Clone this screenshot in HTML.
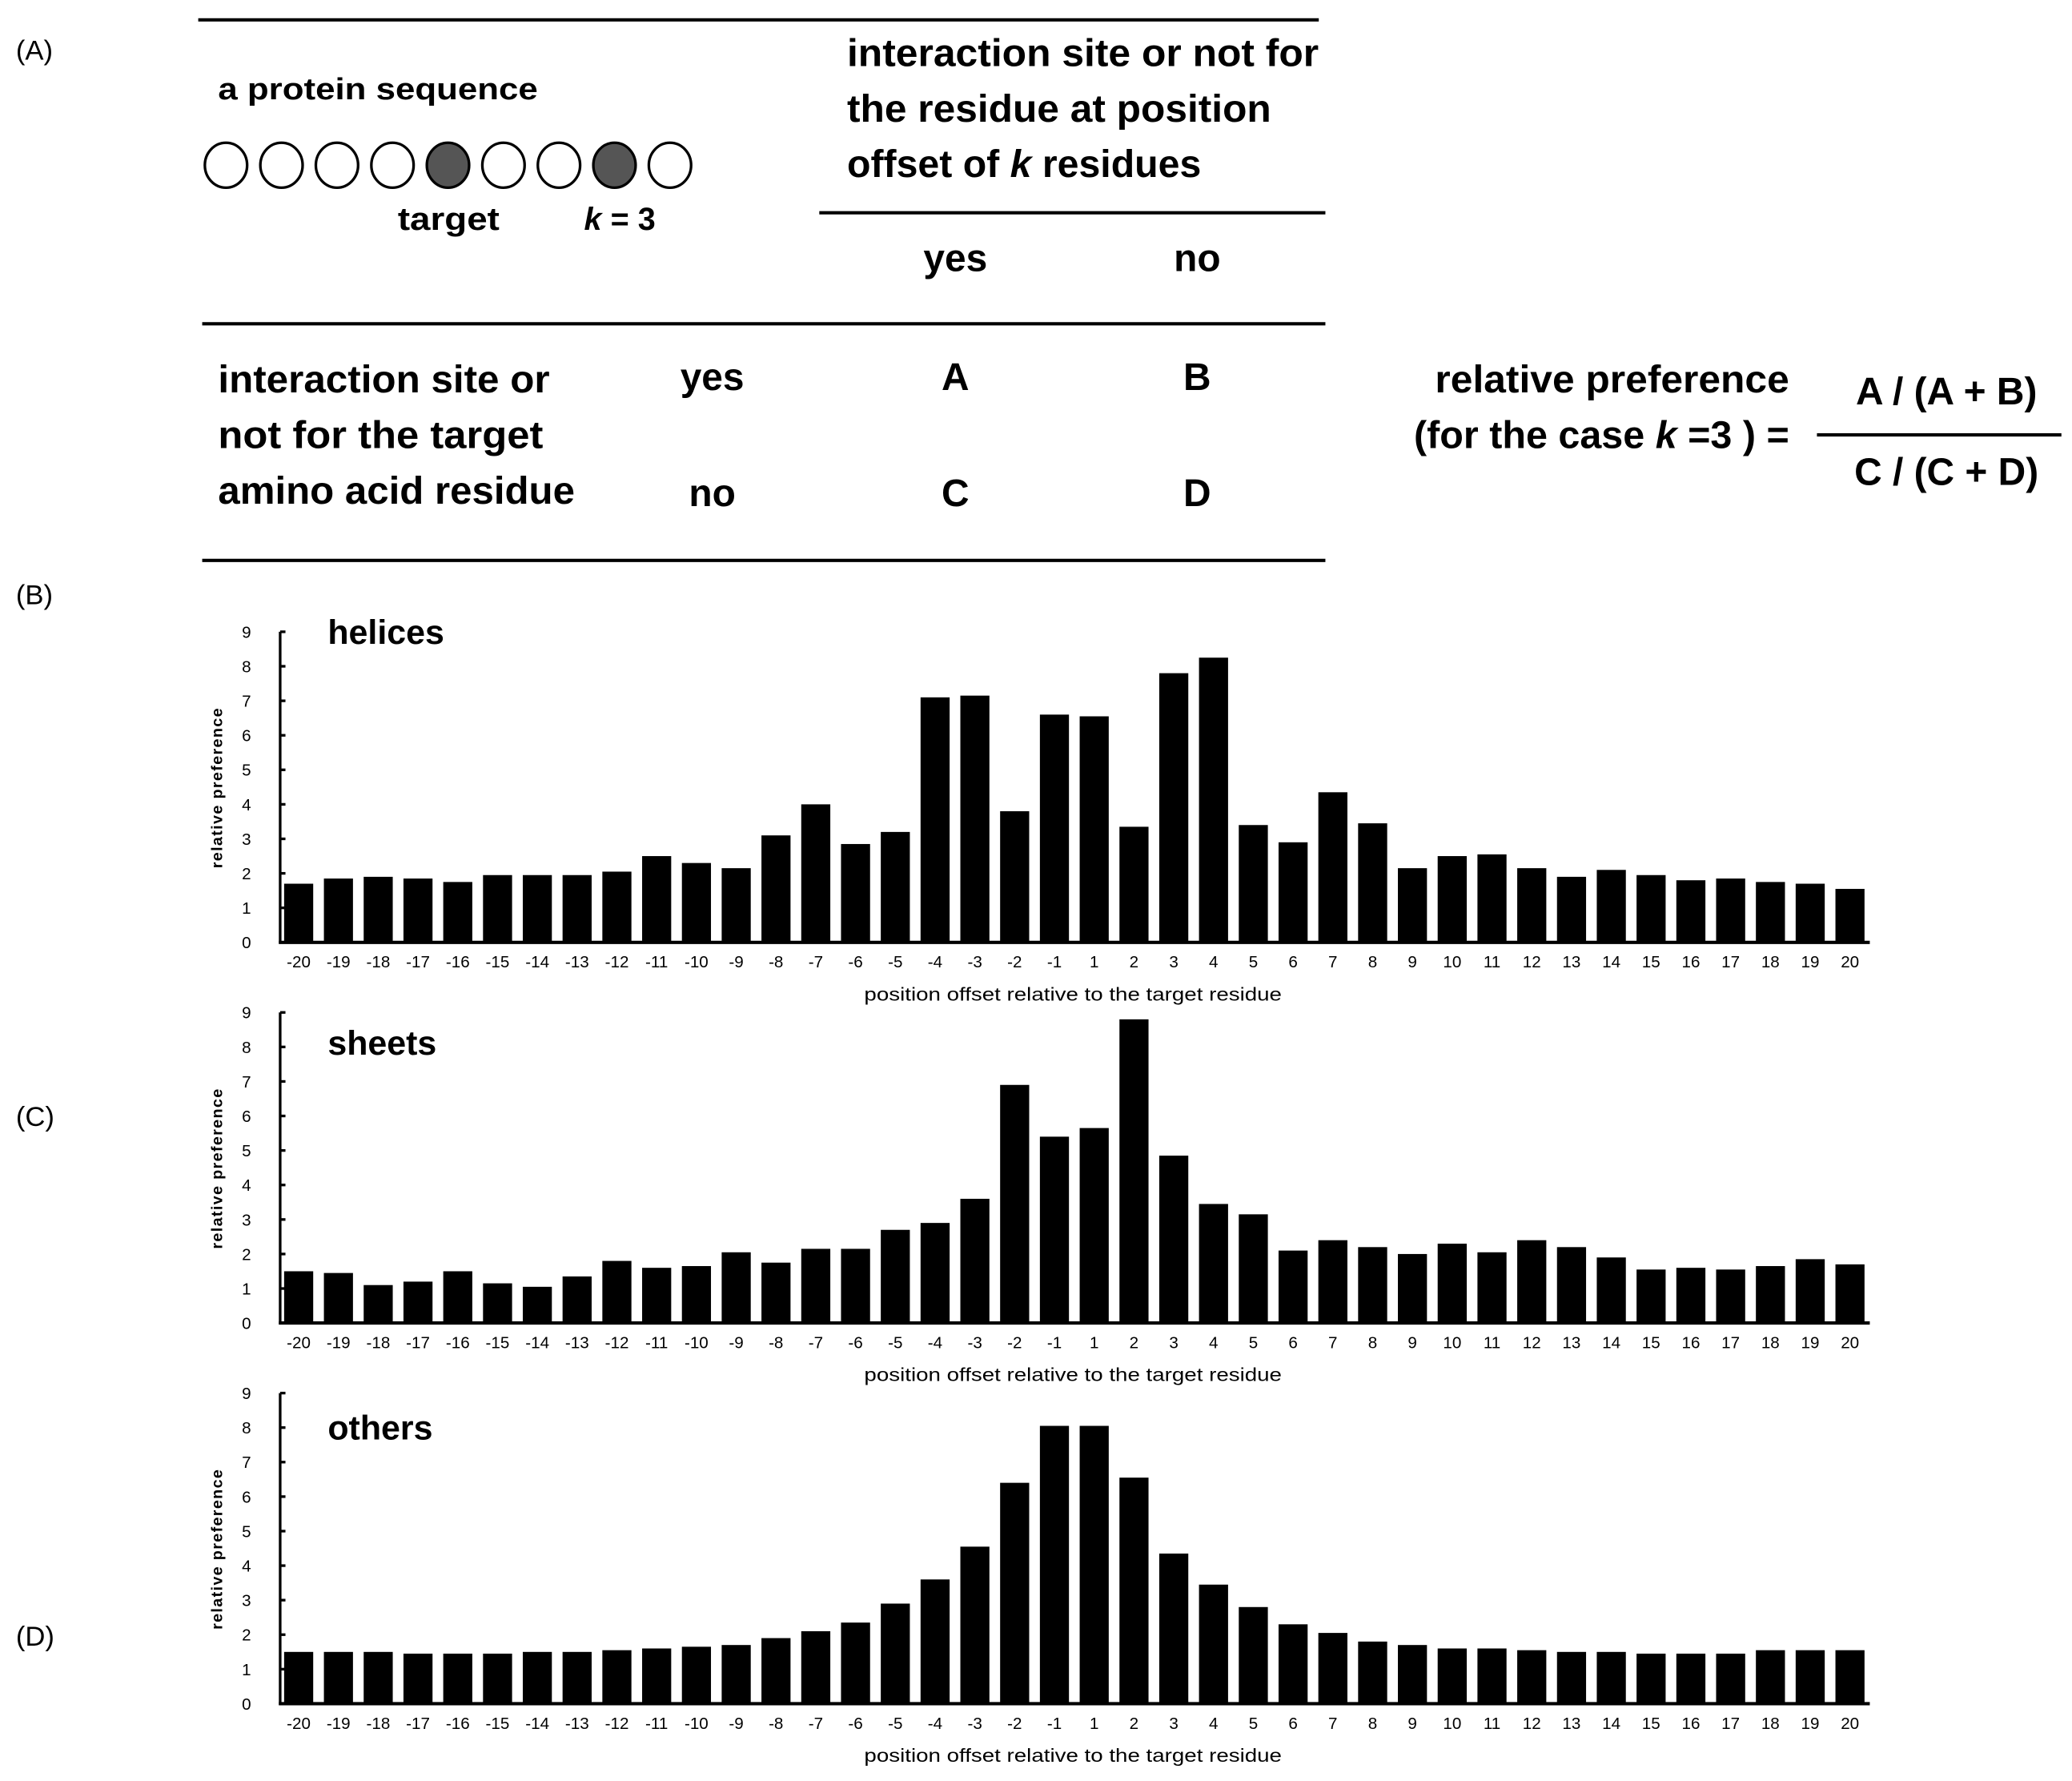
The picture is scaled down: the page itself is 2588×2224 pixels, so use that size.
<!DOCTYPE html>
<html><head><meta charset="utf-8"><style>
html,body{margin:0;padding:0;background:#fff;}
svg{display:block;font-family:"Liberation Sans",sans-serif;}
</style></head><body>
<svg id="fig" width="2588" height="2224" viewBox="0 0 1568 1347.5" xmlns="http://www.w3.org/2000/svg">
<g font-weight="bold" fill="#000">
<text x="12" y="45" font-size="21" font-weight="normal">(A)</text>
<line x1="150" y1="15" x2="998" y2="15" stroke="#000" stroke-width="2.5"/>
<line x1="620" y1="161" x2="1003" y2="161" stroke="#000" stroke-width="2.5"/>
<line x1="153" y1="245" x2="1003" y2="245" stroke="#000" stroke-width="2.5"/>
<line x1="153" y1="424" x2="1003" y2="424" stroke="#000" stroke-width="2.5"/>
<text x="165" y="75" font-size="23" textLength="242" lengthAdjust="spacingAndGlyphs">a protein sequence</text>
<g id="circles"></g>
<text x="301" y="174" font-size="24" textLength="77" lengthAdjust="spacingAndGlyphs">target</text>
<text x="442" y="174" font-size="24"><tspan font-style="italic">k</tspan> = 3</text>
<text x="641" y="50" font-size="29" textLength="357" lengthAdjust="spacingAndGlyphs">interaction site or not for</text>
<text x="641" y="92" font-size="29" textLength="321" lengthAdjust="spacingAndGlyphs">the residue at position</text>
<text x="641" y="134" font-size="29" textLength="268" lengthAdjust="spacingAndGlyphs">offset of <tspan font-style="italic">k</tspan> residues</text>
<text x="723" y="205" font-size="29" text-anchor="middle">yes</text>
<text x="906" y="205" font-size="29" text-anchor="middle">no</text>
<text x="165" y="297" font-size="29" textLength="251" lengthAdjust="spacingAndGlyphs">interaction site or</text>
<text x="165" y="339" font-size="29" textLength="246" lengthAdjust="spacingAndGlyphs">not for the target</text>
<text x="165" y="381" font-size="29" textLength="270" lengthAdjust="spacingAndGlyphs">amino acid residue</text>
<text x="539" y="295" font-size="29" text-anchor="middle">yes</text>
<text x="539" y="383" font-size="29" text-anchor="middle">no</text>
<text x="723" y="295" font-size="29" text-anchor="middle">A</text>
<text x="906" y="295" font-size="29" text-anchor="middle">B</text>
<text x="723" y="383" font-size="29" text-anchor="middle">C</text>
<text x="906" y="383" font-size="29" text-anchor="middle">D</text>
<text x="1354" y="297" font-size="29" text-anchor="end" textLength="268" lengthAdjust="spacingAndGlyphs">relative preference</text>
<text x="1354" y="339" font-size="29" text-anchor="end" textLength="284" lengthAdjust="spacingAndGlyphs">(for the case <tspan font-style="italic">k</tspan> =3 ) =</text>
<line x1="1375" y1="329" x2="1560" y2="329" stroke="#000" stroke-width="2.5"/>
<text x="1473" y="306" font-size="29" text-anchor="middle">A / (A + B)</text>
<text x="1473" y="367" font-size="29" text-anchor="middle">C / (C + D)</text>
</g>
<text x="12" y="457" font-size="21">(B)</text>
<text x="12" y="852" font-size="21">(C)</text>
<text x="12" y="1245" font-size="21">(D)</text>
<g id="charts"></g>
</svg>
<script>
const categories = [-20,-19,-18,-17,-16,-15,-14,-13,-12,-11,-10,-9,-8,-7,-6,-5,-4,-3,-2,-1,1,2,3,4,5,6,7,8,9,10,11,12,13,14,15,16,17,18,19,20];
const yTicks = [0,1,2,3,4,5,6,7,8,9];
const helicesValues = [1.7,1.85,1.9,1.85,1.75,1.95,1.95,1.95,2.05,2.5,2.3,2.15,3.1,4.0,2.85,3.2,7.1,7.15,3.8,6.6,6.55,3.35,7.8,8.25,3.4,2.9,4.35,3.45,2.15,2.5,2.55,2.15,1.9,2.1,1.95,1.8,1.85,1.75,1.7,1.55];
const sheetsValues = [1.5,1.45,1.1,1.2,1.5,1.15,1.05,1.35,1.8,1.6,1.65,2.05,1.75,2.15,2.15,2.7,2.9,3.6,6.9,5.4,5.65,8.8,4.85,3.45,3.15,2.1,2.4,2.2,2.0,2.3,2.05,2.4,2.2,1.9,1.55,1.6,1.55,1.65,1.85,1.7];
const othersValues = [1.5,1.5,1.5,1.45,1.45,1.45,1.5,1.5,1.55,1.6,1.65,1.7,1.9,2.1,2.35,2.9,3.6,4.55,6.4,8.05,8.05,6.55,4.35,3.45,2.8,2.3,2.05,1.8,1.7,1.6,1.6,1.55,1.5,1.5,1.45,1.45,1.45,1.55,1.55,1.55];
const panelTitles = ["helices","sheets","others"];

const NS="http://www.w3.org/2000/svg";
function mk(tag, attrs, parent){const e=document.createElementNS(NS,tag);for(const k in attrs)e.setAttribute(k,attrs[k]);parent.appendChild(e);return e;}

const cg=document.getElementById('circles');
for(let i=0;i<9;i++){
  const c=mk('ellipse',{cx:171+42*i,cy:125,rx:16,ry:17,fill:(i===4||i===7)?'#555':'#fff',stroke:'#000','stroke-width':2},cg);
  
  
}

const charts=document.getElementById('charts');
const series=[helicesValues,sheetsValues,othersValues];
const zeros=[713,1001,1289];
const titleOffsets=[226,203,200];
const x0=226;
const step=(1400-226)/39;
function xScale(i){return x0+i*step;}
series.forEach((vals,p)=>{
  const y0=zeros[p], unit=235/9;
  const yScale=v=>y0-v*unit;
  const g=mk('g',{},charts);
  
  
  const t=mk('text',{x:248,y:y0-titleOffsets[p],'font-size':26,'font-weight':'bold'},g);
  t.textContent=panelTitles[p];
  
  
  vals.forEach((v,i)=>{
    const r=mk('rect',{x:xScale(i)-11,y:yScale(v),width:22,height:v*unit,fill:'#000'},g);
    
    
  });
  const ya=mk('line',{x1:212,y1:yScale(9),x2:212,y2:y0+1,stroke:'#000','stroke-width':2},g);
  
  
  const xa=mk('line',{x1:211,y1:y0,x2:1415,y2:y0,stroke:'#000','stroke-width':2.5},g);
  
  
  yTicks.forEach(tv=>{
    const tk=mk('line',{x1:212,y1:yScale(tv),x2:216,y2:yScale(tv),stroke:'#000','stroke-width':2},g);
    
    
    const tl=mk('text',{x:190,y:yScale(tv)+4.5,'font-size':12.5,'text-anchor':'end'},g);
    tl.textContent=tv;
    
    
  });
  categories.forEach((c,i)=>{
    const tl=mk('text',{x:xScale(i),y:y0+19,'font-size':12.5,'text-anchor':'middle'},g);
    tl.textContent=c;
    
    
  });
  const xt=mk('text',{x:812,y:y0+44,'font-size':14,'text-anchor':'middle',textLength:316,lengthAdjust:'spacingAndGlyphs'},g);
  xt.textContent='position offset relative to the target residue';
  
  
  const yt=mk('text',{x:0,y:0,'font-size':12,'font-weight':'bold','text-anchor':'middle','letter-spacing':'0.8',transform:'translate(168,'+(y0-117)+') rotate(-90)'},g);
  yt.textContent='relative preference';
  
  
});
</script>
</body></html>
